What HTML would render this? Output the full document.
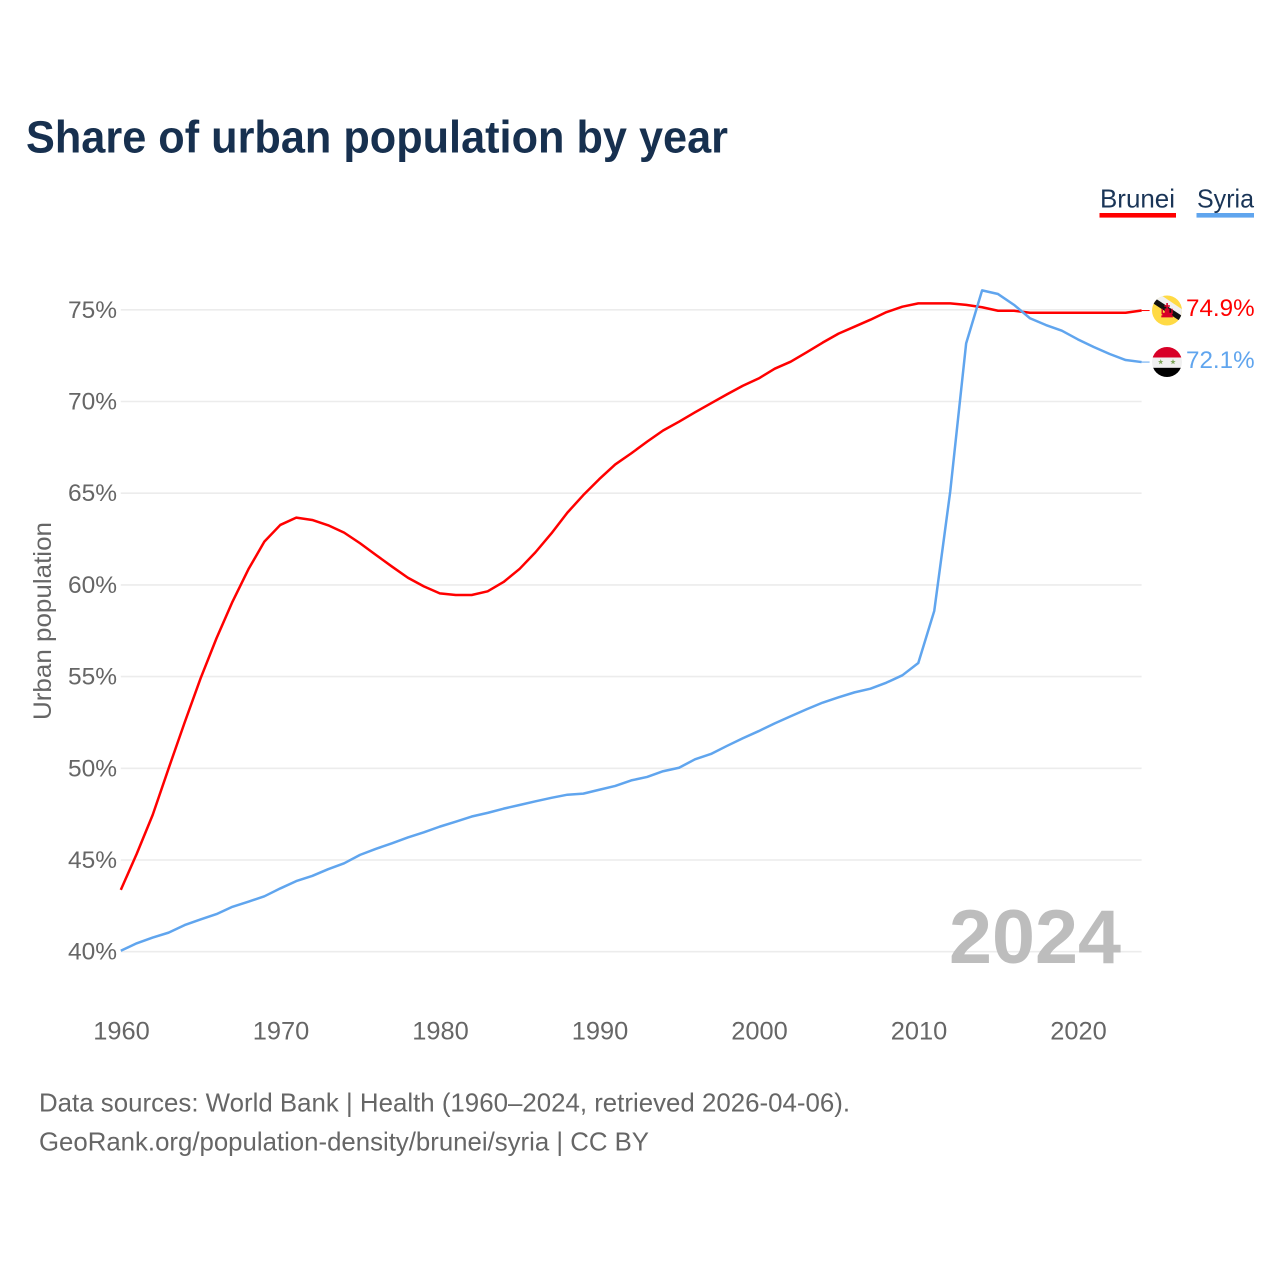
<!DOCTYPE html>
<html lang="en">
<head>
<meta charset="utf-8">
<title>Share of urban population by year</title>
<style>
html,body{margin:0;padding:0;background:#fff;}
body{width:1280px;height:1280px;overflow:hidden;}
svg{display:block;}
text{font-family:"Liberation Sans",Arial,sans-serif;}
</style>
</head>
<body>
<svg id="chart" xmlns="http://www.w3.org/2000/svg" width="1280" height="1280" viewBox="0 0 1280 1280">
  <rect x="0" y="0" width="1280" height="1280" fill="#ffffff"/>
  <text x="26" y="152.5" font-size="45" font-weight="700" fill="#17304f" textLength="702" lengthAdjust="spacingAndGlyphs">Share of urban population by year</text>

  <g>
    <text x="1100" y="207.5" font-size="26" fill="#1a3557" textLength="75" lengthAdjust="spacingAndGlyphs">Brunei</text>
    <rect x="1099.5" y="213" width="76.5" height="4.6" fill="#ff0000"/>
  </g>
  <g>
    <text x="1197" y="207.5" font-size="26" fill="#1a3557" textLength="57" lengthAdjust="spacingAndGlyphs">Syria</text>
    <rect x="1196.5" y="213" width="57.5" height="4.6" fill="#60a5ee"/>
  </g>

  <g id="grid"></g>
  <g id="yticks"></g>
  <g id="xticks"></g>
  <text transform="translate(51,621) rotate(-90)" text-anchor="middle" font-size="25" fill="#666666" textLength="198" lengthAdjust="spacingAndGlyphs">Urban population</text>

  <text id="yearLabel" x="949" y="963" font-size="76" font-weight="700" fill="#bdbdbd" textLength="172" lengthAdjust="spacingAndGlyphs">2024</text>

  <g id="series"></g>

  <defs>
    <clipPath id="clip-brunei"><circle cx="1167" cy="310.5" r="15"/></clipPath>
    <clipPath id="clip-syria"><circle cx="1167" cy="362" r="15"/></clipPath>
  </defs>

  <g clip-path="url(#clip-brunei)">
    <rect x="1152" y="295" width="30" height="31" fill="#ffda44"/>
    <polygon points="1150,299 1155,291 1186,312 1181,320" fill="#f0f0f0"/>
    <polygon points="1151,302 1154,297.5 1183,316.5 1180,321" fill="#111111"/>
    <path d="M1166.3 303 h1.6 v2.2 h2 v1.5 h-2 v1.8 h1.6 v4.2 h1.8 v-4 h1.4 v5.5 h-0.8 v1.2 h1 v2 h-11.6 v-2 h1 v-1.2 h-0.8 v-5.5 h1.4 v4 h1.8 v-4.2 h1.6 v-1.8 h-2 v-1.5 h2 z" fill="#d80027"/>
  </g>
  <g clip-path="url(#clip-syria)">
    <rect x="1152" y="346" width="30" height="11.5" fill="#d80027"/>
    <rect x="1152" y="357.5" width="30" height="10.3" fill="#f0f0f0"/>
    <rect x="1152" y="367.8" width="30" height="10" fill="#000000"/>
    <polygon points="1160.7,359 1161.4,361 1163.4,361 1161.8,362.3 1162.4,364.3 1160.7,363.1 1159,364.3 1159.6,362.3 1158,361 1160,361" fill="#7fa65a"/>
    <polygon points="1173,359 1173.7,361 1175.7,361 1174.1,362.3 1174.7,364.3 1173,363.1 1171.3,364.3 1171.9,362.3 1170.3,361 1172.3,361" fill="#7fa65a"/>
  </g>

  <text id="valueBrunei" x="1186" y="316" font-size="24.2" fill="#ff0000"></text>
  <text id="valueSyria" x="1186" y="368" font-size="24.2" fill="#60a5ee"></text>

  <text x="39" y="1111.5" font-size="26" fill="#666666" textLength="811" lengthAdjust="spacingAndGlyphs">Data sources: World Bank | Health (1960–2024, retrieved 2026-04-06).</text>
  <text x="39" y="1150.5" font-size="26" fill="#666666" textLength="610" lengthAdjust="spacingAndGlyphs">GeoRank.org/population-density/brunei/syria | CC BY</text>
</svg>

<script>
const firstYear = 1960;
const yTickValues = [40, 45, 50, 55, 60, 65, 70, 75];
const xTickYears = [1960, 1970, 1980, 1990, 2000, 2010, 2020];
const bruneiValues = [
  43.37, 45.34, 47.46, 50.0, 52.49, 54.9, 57.09, 59.08, 60.85, 62.36,
  63.27, 63.67, 63.54, 63.25, 62.85, 62.27, 61.63, 61.0, 60.39, 59.92,
  59.54, 59.45, 59.45, 59.65, 60.16, 60.87, 61.78, 62.81, 63.94, 64.9,
  65.77, 66.57, 67.17, 67.81, 68.42, 68.9, 69.41, 69.9, 70.39, 70.86,
  71.26, 71.79, 72.17, 72.68, 73.21, 73.7, 74.08, 74.46, 74.87, 75.17,
  75.35, 75.35, 75.35, 75.27, 75.14, 74.95, 74.95, 74.84, 74.84, 74.84,
  74.84, 74.84, 74.84, 74.84, 74.96
];
const syriaValues = [
  40.05, 40.46, 40.77, 41.04, 41.45, 41.76, 42.05, 42.45, 42.73, 43.02,
  43.45, 43.85, 44.13, 44.5, 44.82, 45.28, 45.61, 45.91, 46.23, 46.51,
  46.82, 47.09, 47.37, 47.57, 47.8, 48.0, 48.2, 48.39, 48.56, 48.62,
  48.83, 49.04, 49.34, 49.53, 49.84, 50.03, 50.49, 50.78, 51.22, 51.64,
  52.03, 52.45, 52.84, 53.22, 53.58, 53.87, 54.14, 54.34, 54.67, 55.07,
  55.74, 58.58, 65.08, 73.17, 76.06, 75.86, 75.27, 74.54, 74.17, 73.86,
  73.39, 72.97, 72.59, 72.26, 72.15
];
const bruneiLabel = '74.9%';
const syriaLabel = '72.1%';

const SVG_NS = 'http://www.w3.org/2000/svg';
function xScale(year) { return 120.8 + (year - 1960) * 15.95; }
function yScale(value) { return 951.7 - (value - 40) * 18.34; }
function make(tag) { return document.createElementNS(SVG_NS, tag); }

const gridGroup = document.getElementById('grid');
const yTickGroup = document.getElementById('yticks');
const xTickGroup = document.getElementById('xticks');
const seriesGroup = document.getElementById('series');
const lastYear = firstYear + bruneiValues.length - 1;

yTickValues.forEach(function (v) {
  const line = make('line');
  
  
  line.setAttribute('x1', xScale(firstYear));
  line.setAttribute('x2', xScale(lastYear));
  line.setAttribute('y1', yScale(v));
  line.setAttribute('y2', yScale(v));
  line.setAttribute('stroke', '#ececec');
  line.setAttribute('stroke-width', '1.6');
  gridGroup.appendChild(line);

  const label = make('text');
  
  
  label.setAttribute('x', 117);
  label.setAttribute('y', yScale(v) + 8);
  label.setAttribute('text-anchor', 'end');
  label.setAttribute('font-size', '24.5');
  label.setAttribute('fill', '#666666');
  label.textContent = v + '%';
  yTickGroup.appendChild(label);
});

xTickYears.forEach(function (year) {
  const label = make('text');
  
  
  label.setAttribute('x', xScale(year) + 0.7);
  label.setAttribute('y', 1039.5);
  label.setAttribute('text-anchor', 'middle');
  label.setAttribute('font-size', '25.4');
  label.setAttribute('fill', '#666666');
  label.textContent = String(year);
  xTickGroup.appendChild(label);
});

function pointsFor(values) {
  return values.map(function (v, i) {
    return xScale(firstYear + i).toFixed(2) + ',' + yScale(v).toFixed(2);
  }).join(' ');
}

const bruneiLine = make('polyline');


bruneiLine.setAttribute('points', pointsFor(bruneiValues));
bruneiLine.setAttribute('fill', 'none');
bruneiLine.setAttribute('stroke', '#ff0000');
bruneiLine.setAttribute('stroke-width', '2.5');
bruneiLine.setAttribute('stroke-linejoin', 'round');
seriesGroup.appendChild(bruneiLine);

const syriaLine = make('polyline');


syriaLine.setAttribute('points', pointsFor(syriaValues));
syriaLine.setAttribute('fill', 'none');
syriaLine.setAttribute('stroke', '#60a5ee');
syriaLine.setAttribute('stroke-width', '2.5');
syriaLine.setAttribute('stroke-linejoin', 'round');
seriesGroup.appendChild(syriaLine);

const bruneiConnector = make('line');


bruneiConnector.setAttribute('x1', xScale(lastYear));
bruneiConnector.setAttribute('x2', xScale(lastYear) + 8);
bruneiConnector.setAttribute('y1', yScale(bruneiValues[bruneiValues.length - 1]));
bruneiConnector.setAttribute('y2', yScale(bruneiValues[bruneiValues.length - 1]));
bruneiConnector.setAttribute('stroke', '#ff0000');
bruneiConnector.setAttribute('stroke-width', '1');
seriesGroup.appendChild(bruneiConnector);

const syriaConnector = make('line');


syriaConnector.setAttribute('x1', xScale(lastYear));
syriaConnector.setAttribute('x2', xScale(lastYear) + 8);
syriaConnector.setAttribute('y1', yScale(syriaValues[syriaValues.length - 1]));
syriaConnector.setAttribute('y2', yScale(syriaValues[syriaValues.length - 1]));
syriaConnector.setAttribute('stroke', '#60a5ee');
syriaConnector.setAttribute('stroke-width', '1');
seriesGroup.appendChild(syriaConnector);

document.getElementById('valueBrunei').textContent = bruneiLabel;
document.getElementById('valueSyria').textContent = syriaLabel;
</script>
</body>
</html>
